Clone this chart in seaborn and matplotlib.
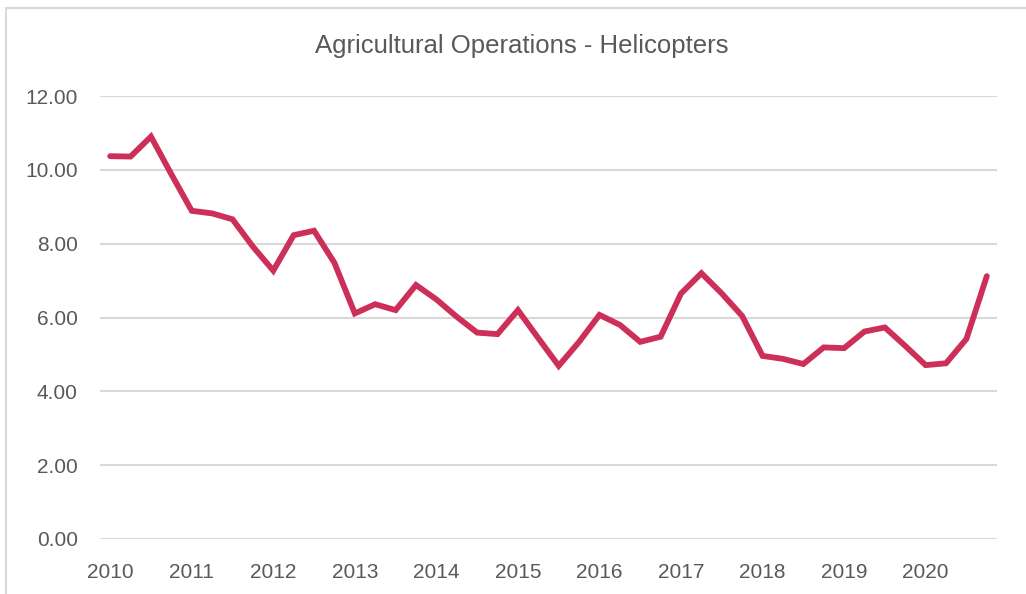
import numpy as np
import pandas as pd
import seaborn as sns
import matplotlib.pyplot as plt
from matplotlib.patches import Rectangle

# quarterly values, 2010 Q1 .. 2020 Q4
years = list(range(2010, 2021))
quarters = ['Q1', 'Q2', 'Q3', 'Q4']
values = [10.37, 10.36, 10.90, 9.88,
          8.89, 8.82, 8.66, 7.92,
          7.27, 8.23, 8.35, 7.48,
          6.11, 6.36, 6.20, 6.88,
          6.49, 6.02, 5.59, 5.55,
          6.20, 5.44, 4.69, 5.34,
          6.07, 5.80, 5.34, 5.48,
          6.65, 7.20, 6.65, 6.04,
          4.96, 4.88, 4.74, 5.19,
          5.17, 5.62, 5.73, 5.23,
          4.71, 4.76, 5.42, 7.12]

labels = [f'{y} {q}' for y in years for q in quarters]
df = pd.DataFrame({'period': labels, 'value': values})
df['idx'] = np.arange(len(df))

sns.set_theme(style='white')
plt.rcParams['font.family'] = ['Liberation Sans', 'DejaVu Sans']

fig = plt.figure(figsize=(10.26, 5.94), dpi=100)
W, H = 1026, 594
ax = fig.add_axes([100 / W, 1 - 539 / H, 897 / W, (539 - 96) / H])

# chart frame
fig.patches.append(Rectangle((6 / W, -0.1), 1.2, 1 - 8 / H + 0.1, transform=fig.transFigure,
                             fill=False, edgecolor='#d9d9d9', linewidth=1.5))

sns.lineplot(data=df, x='idx', y='value', ax=ax, color='#CC3058', linewidth=4.2,
             solid_capstyle='round', solid_joinstyle='miter')

ax.set_xlim(-0.5, len(df) - 0.5)
ax.set_ylim(0, 12)
ax.set_yticks(np.arange(0, 12.1, 2))
ax.set_yticklabels([f'{v:.2f}' for v in np.arange(0, 12.1, 2)])
ax.set_xticks(np.arange(0, len(df), 4))
ax.set_xticklabels([str(y) for y in years])
ax.yaxis.grid(True, color='#d9d9d9', linewidth=1.5)
ax.xaxis.grid(False)
for s in ax.spines.values():
    s.set_visible(False)
ax.tick_params(axis='both', length=0, labelsize=15, colors='#595959')
ax.tick_params(axis='y', pad=16)
ax.tick_params(axis='x', pad=17)
ax.set_xlabel('')
ax.set_ylabel('')
ax.set_axisbelow(True)

fig.text(522 / W, 1 - 46 / H, 'Agricultural Operations - Helicopters', ha='center', va='center',
         fontsize=18.5, color='#595959')

fig.savefig('out.png', dpi=100, facecolor='white')
